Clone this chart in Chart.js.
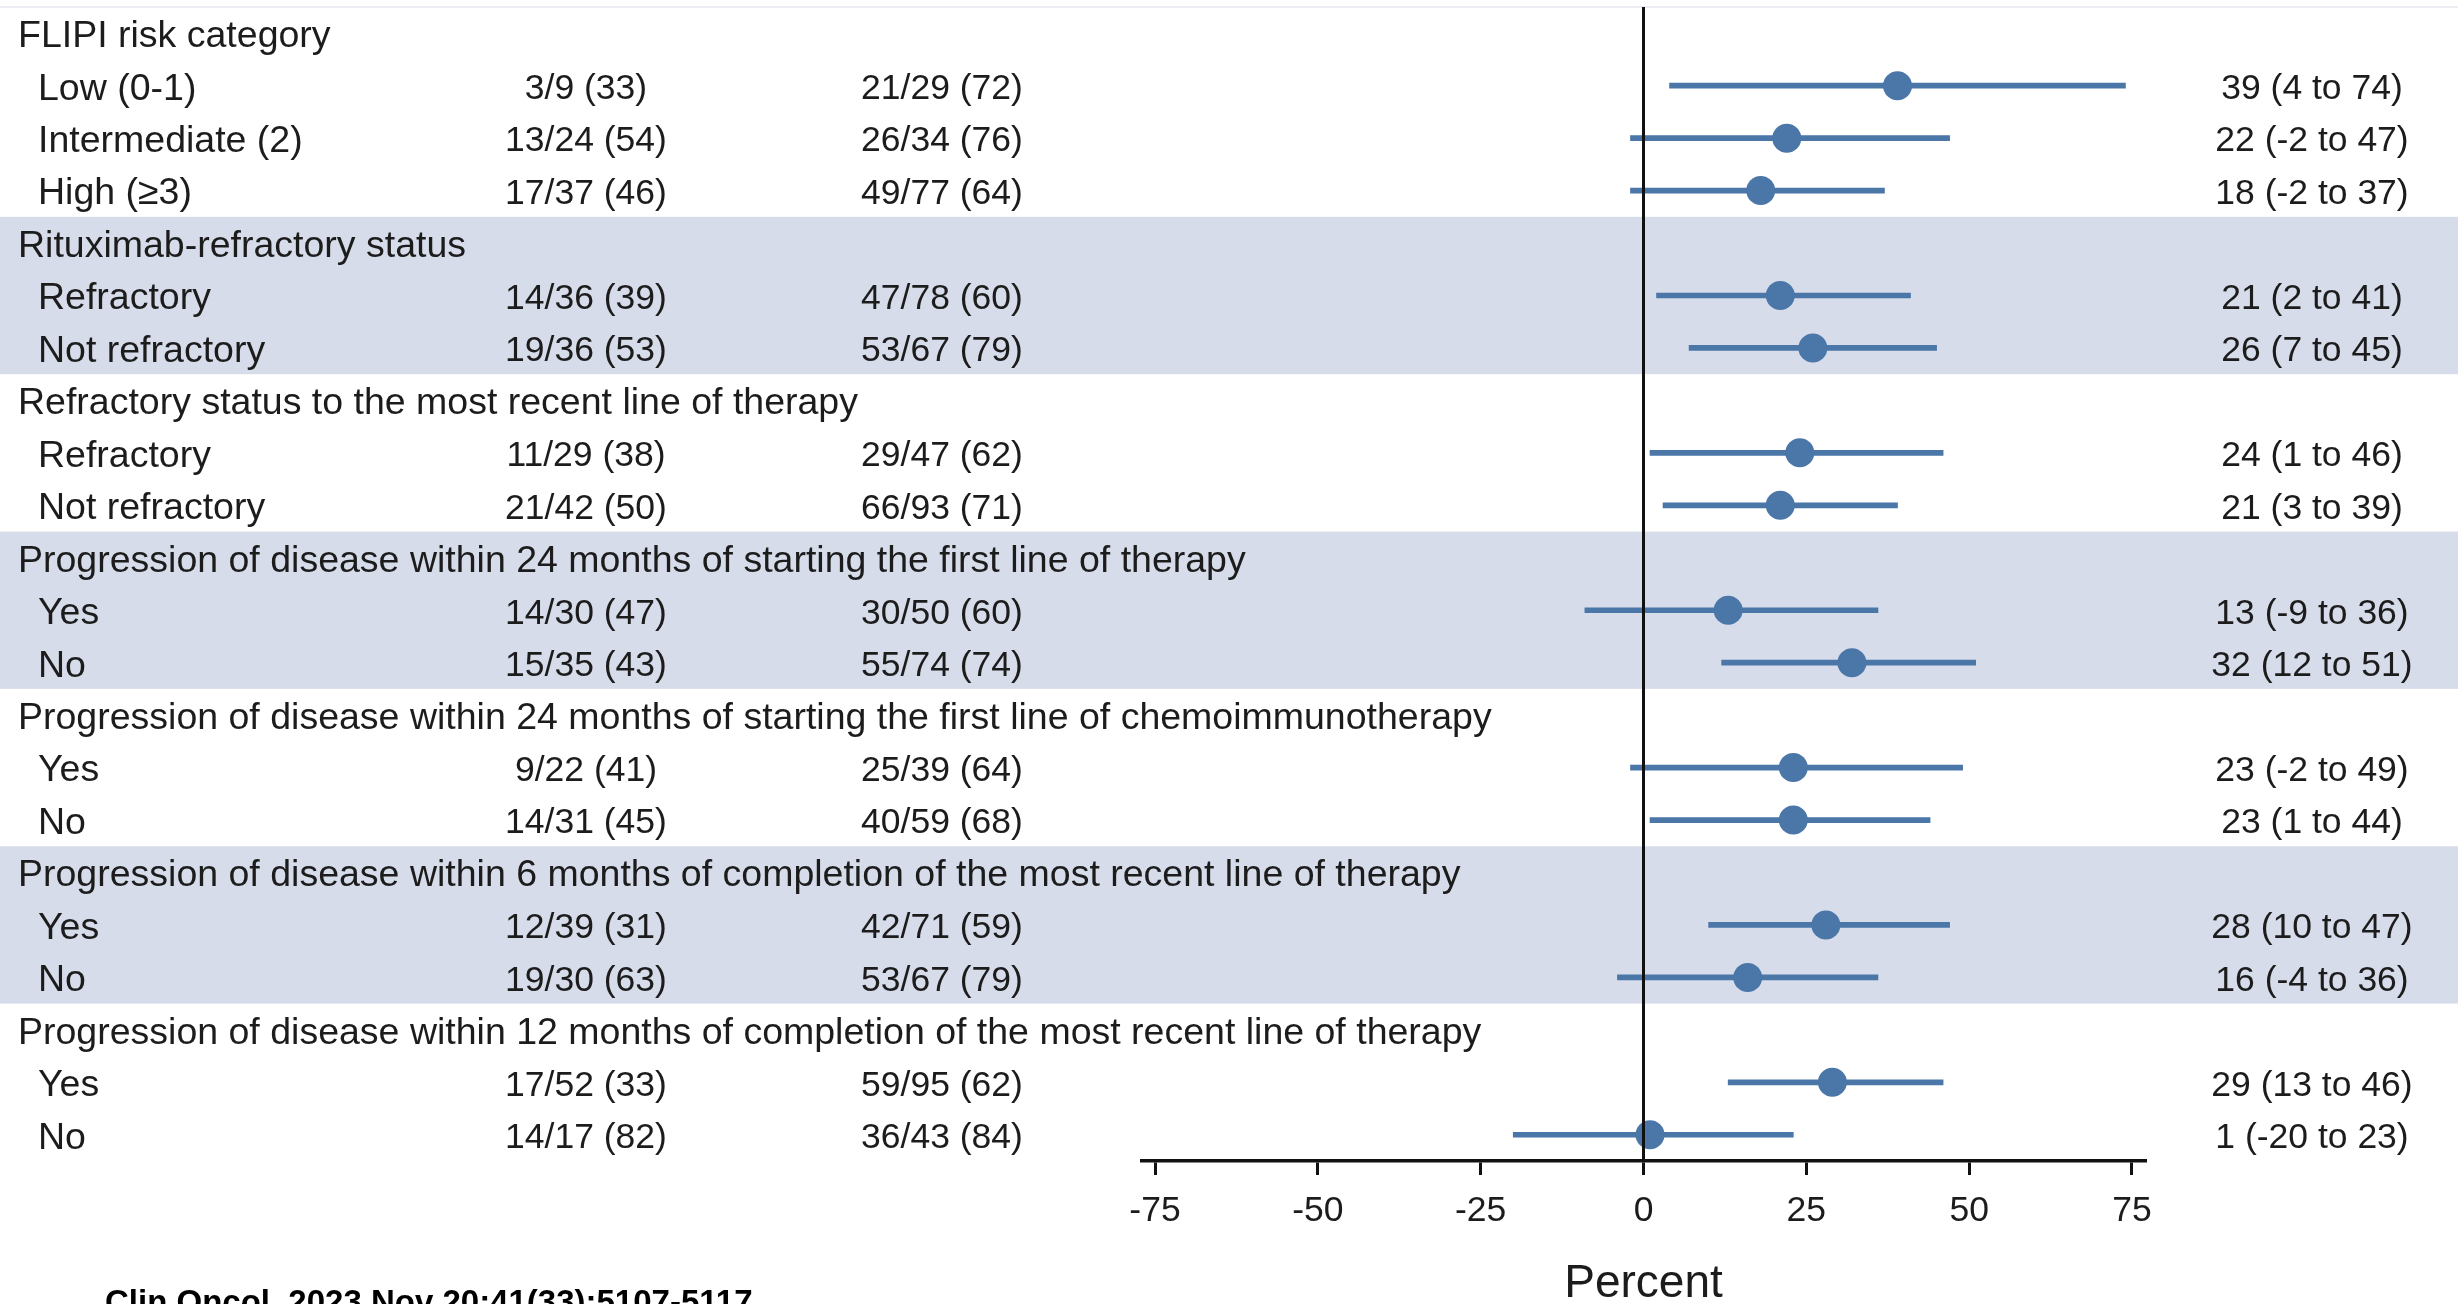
<!DOCTYPE html>
<html>
<head>
<meta charset="utf-8">
<title>Subgroup forest plot</title>
<script src="https://cdn.jsdelivr.net/npm/chart.js@4.4.1/dist/chart.umd.min.js"></script>
<style>
  html, body { margin: 0; padding: 0; background: #ffffff; overflow: hidden; }
  canvas { display: block; }
</style>
</head>
<body>
<canvas id="forest" width="2458" height="1304"></canvas>
<script>
// Row labels, top to bottom; group headings have no estimate.
const rowLabels = [
  'FLIPI risk category',
  'Low (0-1)',
  'Intermediate (2)',
  'High (\u22653)',
  'Rituximab-refractory status',
  'Refractory',
  'Not refractory',
  'Refractory status to the most recent line of therapy',
  'Refractory',
  'Not refractory',
  'Progression of disease within 24 months of starting the first line of therapy',
  'Yes',
  'No',
  'Progression of disease within 24 months of starting the first line of chemoimmunotherapy',
  'Yes',
  'No',
  'Progression of disease within 6 months of completion of the most recent line of therapy',
  'Yes',
  'No',
  'Progression of disease within 12 months of completion of the most recent line of therapy',
  'Yes',
  'No'
];

// Responders / patients (%) in each arm.
const controlArm = [
  '', '3/9 (33)', '13/24 (54)', '17/37 (46)',
  '', '14/36 (39)', '19/36 (53)',
  '', '11/29 (38)', '21/42 (50)',
  '', '14/30 (47)', '15/35 (43)',
  '', '9/22 (41)', '14/31 (45)',
  '', '12/39 (31)', '19/30 (63)',
  '', '17/52 (33)', '14/17 (82)'
];
const treatmentArm = [
  '', '21/29 (72)', '26/34 (76)', '49/77 (64)',
  '', '47/78 (60)', '53/67 (79)',
  '', '29/47 (62)', '66/93 (71)',
  '', '30/50 (60)', '55/74 (74)',
  '', '25/39 (64)', '40/59 (68)',
  '', '42/71 (59)', '53/67 (79)',
  '', '59/95 (62)', '36/43 (84)'
];

// Difference in response rate (percentage points) with 95% CI.
const estimate = [null, 39, 22, 18, null, 21, 26, null, 24, 21, null, 13, 32, null, 23, 23, null, 28, 16, null, 29, 1];
const ciLow    = [null, 4, -2, -2, null, 2, 7, null, 1, 3, null, -9, 12, null, -2, 1, null, 10, -4, null, 13, -20];
const ciHigh   = [null, 74, 47, 37, null, 41, 45, null, 46, 39, null, 36, 51, null, 49, 44, null, 47, 36, null, 46, 23];

// Groups drawn on a shaded background (first and last row index).
const shadedGroups = [[4, 6], [10, 12], [16, 18]];

const xTicks = [-75, -50, -25, 0, 25, 50, 75];
const xTitle = 'Percent';
const citation = 'Clin Oncol. 2023 Nov 20;41(33):5107-5117.';

const FONT = '"Liberation Sans", Arial, Helvetica, sans-serif';
const LABEL_SIZE = 37.5;
const NUM_SIZE = 35.5;
const INK = '#1c1c1c';
const BLUE = '#4a76a8';
const BAND = '#d7dcea';

const forestTable = {
  id: 'forestTable',
  beforeDraw(chart) {
    const { ctx, width, height } = chart;
    const y = chart.scales.y;
    const pitch = Math.abs(y.getPixelForValue(1) - y.getPixelForValue(0));
    ctx.save();
    ctx.fillStyle = '#ffffff';
    ctx.fillRect(0, 0, width, height);

    // shaded group bands across the whole width
    ctx.fillStyle = BAND;
    shadedGroups.forEach(([first, last]) => {
      const top = y.getPixelForValue(first) - pitch / 2;
      const bottom = y.getPixelForValue(last) + pitch / 2;
      ctx.fillRect(0, top, width, bottom - top);
    });

    // faint rule along the top edge
    ctx.fillStyle = '#eceef4';
    ctx.fillRect(0, chart.chartArea.top - 1, width, 2);

    // table columns
    ctx.fillStyle = INK;
    ctx.textBaseline = 'middle';
    rowLabels.forEach((label, i) => {
      const py = y.getPixelForValue(i) + 3.5;
      const heading = estimate[i] === null;
      ctx.font = `${LABEL_SIZE}px ${FONT}`;
      ctx.textAlign = 'left';
      ctx.fillText(label, heading ? 18 : 38, py);
      if (!heading) {
        ctx.font = `${NUM_SIZE}px ${FONT}`;
        ctx.textAlign = 'center';
        ctx.fillText(controlArm[i], 586, py);
        ctx.fillText(treatmentArm[i], 942, py);
        ctx.fillText(`${estimate[i]} (${ciLow[i]} to ${ciHigh[i]})`, 2312, py);
      }
    });

    // source line, clipped by the bottom edge
    ctx.font = `bold 33px ${FONT}`;
    ctx.textAlign = 'left';
    ctx.textBaseline = 'alphabetic';
    ctx.fillStyle = '#000000';
    ctx.fillText(citation, 105, 1313);
    ctx.restore();
  },
  afterDatasetsDraw(chart) {
    // line of no difference
    const { ctx, chartArea } = chart;
    const x0 = chart.scales.x.getPixelForValue(0);
    ctx.save();
    ctx.strokeStyle = '#111111';
    ctx.lineWidth = 3;
    ctx.beginPath();
    ctx.moveTo(x0, chartArea.top);
    ctx.lineTo(x0, chartArea.bottom);
    ctx.stroke();
    ctx.restore();
  }
};

new Chart(document.getElementById('forest'), {
  type: 'bar',
  data: {
    labels: rowLabels,
    datasets: [
      {
        type: 'scatter',
        label: 'Estimate',
        data: estimate.map((v, i) => ({ x: v, y: i })),
        backgroundColor: BLUE,
        borderWidth: 0,
        pointRadius: 14.5,
        pointHoverRadius: 14.5,
        order: 0
      },
      {
        type: 'bar',
        label: '95% CI',
        data: ciLow.map((lo, i) => (lo === null ? null : [lo, ciHigh[i]])),
        backgroundColor: BLUE,
        borderWidth: 0,
        borderSkipped: false,
        barThickness: 5,
        order: 1
      }
    ]
  },
  options: {
    indexAxis: 'y',
    responsive: false,
    animation: false,
    devicePixelRatio: 1,
    layout: { autoPadding: false, padding: { left: 1142, right: 313, top: 7, bottom: 0 } },
    plugins: {
      legend: { display: false },
      tooltip: { enabled: false }
    },
    scales: {
      y: {
        type: 'category',
        display: false,
        offset: true
      },
      x: {
        type: 'linear',
        position: 'bottom',
        min: -77,
        max: 77,
        afterBuildTicks: (scale) => { scale.ticks = xTicks.map(v => ({ value: v })); },
        afterFit: (scale) => { scale.height = 143; },
        grid: {
          display: true,
          drawOnChartArea: false,
          drawTicks: true,
          tickLength: 14,
          lineWidth: 3,
          color: '#111111'
        },
        border: { display: true, color: '#111111', width: 3.5 },
        ticks: {
          autoSkip: false,
          maxRotation: 0,
          padding: 18,
          color: INK,
          font: { family: FONT, size: NUM_SIZE, lineHeight: 1 }
        },
        title: {
          display: true,
          text: xTitle,
          color: INK,
          padding: 0,
          font: { family: FONT, size: 46, lineHeight: 0.84 }
        }
      }
    }
  },
  plugins: [forestTable]
});
</script>
</body>
</html>
